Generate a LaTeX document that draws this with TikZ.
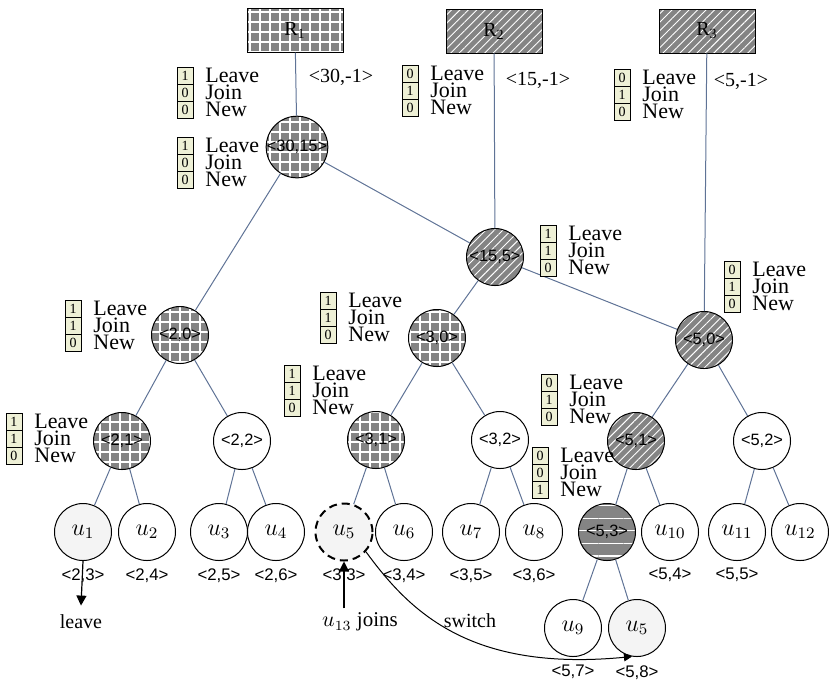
\documentclass[tikz,border=0pt]{standalone}
\usepackage{fontspec}
\setmainfont{Liberation Serif}
\newfontfamily\sansf{Liberation Sans}
\usepackage{tikz}
\usetikzlibrary{arrows.meta,positioning,patterns.meta}

\definecolor{edgeblue}{RGB}{95,115,150}
\definecolor{shade}{RGB}{132,132,132}
\definecolor{flagbg}{RGB}{238,240,214}
\definecolor{leafbg}{RGB}{244,244,244}

% three flag bits with their names: name, top-left corner, leave, join, new
\newcommand{\flagset}[5]{%
  \node[bit, anchor=north west] (#1l) at (#2) {#3};
  \node[bit, below=0pt of #1l] (#1j) {#4};
  \node[bit, below=0pt of #1j] (#1n) {#5};
  \node[ftxt, right=6pt of #1l] (#1lt) {Leave};
  \node[ftxt, right=6pt of #1j] (#1jt) {Join};
  \node[ftxt, right=6pt of #1n] (#1nt) {New};
}

\begin{document}
\begin{tikzpicture}[
  x=0.5pt, y=-0.5pt,
  rbox/.style={draw, minimum width=48pt, minimum height=22pt, inner sep=0pt, font=\rmfamily\fontsize{10}{11}\selectfont},
  tnode/.style={circle, draw, line width=0.5pt, minimum size=28.5pt, inner sep=0pt, font=\sansf\fontsize{8.2}{9}\selectfont},
  leaf/.style={tnode, font=\rmfamily\fontsize{12}{14}\selectfont},
  hatchfill/.style={preaction={fill=shade}, pattern={Hatch[distance=5pt,line width=0.6pt]}, pattern color=white},
  stripefill/.style={preaction={fill=shade}, pattern={Lines[angle=45,distance=3pt,line width=0.45pt]}, pattern color=white},
  barfill/.style={preaction={fill=shade}, pattern={Lines[angle=0,distance=6.3pt,line width=0.6pt]}, pattern color=white},
  bit/.style={draw, fill=flagbg, line width=0.4pt, minimum width=8pt, minimum height=8.5pt, inner sep=0pt, outer sep=0pt, font=\rmfamily\fontsize{7}{7}\selectfont},
  ftxt/.style={inner sep=0pt, text height=7pt, text depth=0pt, font=\rmfamily\fontsize{11}{11}\selectfont},
  lbl/.style={inner sep=0pt, font=\sansf\fontsize{8.4}{9}\selectfont},
  ptxt/.style={inner sep=0pt, font=\rmfamily\fontsize{10}{11}\selectfont},
  edge/.style={draw=edgeblue, line width=0.5pt},
  arr/.style={-{Triangle[length=5pt,width=5pt]}, line width=0.6pt}
]
\useasboundingbox (0,0) rectangle (829,682);

% roots
\node[rbox, hatchfill] (r1) at (295,30) {R\textsubscript{1}};
\node[rbox, stripefill] (r2) at (494,31) {R\textsubscript{2}};
\node[rbox, stripefill] (r3) at (707,31) {R\textsubscript{3}};
\node[ptxt] (w1) at (341,77) {<30,-1>};
\node[ptxt] (w2) at (538,80) {<15,-1>};
\node[ptxt] (w3) at (741,81) {<5,-1>};

% inner nodes
\node[tnode, hatchfill] (n3015) at (297,147) {<30,15>};
\node[tnode, stripefill] (n155) at (495,257) {<15,5>};
\node[tnode, stripefill] (n50) at (704,340) {<5,0>};
\node[tnode, hatchfill] (n20) at (180,335) {<2,0>};
\node[tnode, hatchfill] (n30) at (437,338) {<3,0>};
\node[tnode, hatchfill] (n21) at (122,441) {<2,1>};
\node[tnode] (n22) at (242,441) {<2,2>};
\node[tnode, hatchfill] (n31) at (376,440) {<3,1>};
\node[tnode] (n32) at (500,440) {<3,2>};
\node[tnode, stripefill] (n51) at (636,441) {<5,1>};
\node[tnode] (n52) at (762,441) {<5,2>};
\node[tnode, barfill] (n53) at (607,532) {<5,3>};

% members
\node[leaf, fill=leafbg] (u1) at (83,532) {$u_{1}$};
\node[leaf] (u2) at (147,532) {$u_{2}$};
\node[leaf] (u3) at (219,532) {$u_{3}$};
\node[leaf] (u4) at (276,532) {$u_{4}$};
\node[leaf, fill=leafbg, line width=1pt, dash pattern=on 4pt off 2.5pt] (u5) at (344,532) {$u_{5}$};
\node[leaf] (u6) at (404,532) {$u_{6}$};
\node[leaf] (u7) at (471,532) {$u_{7}$};
\node[leaf] (u8) at (534,532) {$u_{8}$};
\node[leaf] (u10) at (670,532) {$u_{10}$};
\node[leaf] (u11) at (737,532) {$u_{11}$};
\node[leaf] (u12) at (800,532) {$u_{12}$};
\node[leaf] (u9) at (573,628) {$u_{9}$};
\node[leaf, fill=leafbg] (u5b) at (637,628) {$u_{5}$};

\node[lbl, below=3.5pt of u1] (l23) {<2,3>};
\node[lbl, below=3.5pt of u2] (l24) {<2,4>};
\node[lbl, below=3.5pt of u3] (l25) {<2,5>};
\node[lbl, below=3.5pt of u4] (l26) {<2,6>};
\node[lbl, below=3.5pt of u5] (l33) {<3,3>};
\node[lbl, below=3.5pt of u6] (l34) {<3,4>};
\node[lbl, below=3.5pt of u7] (l35) {<3,5>};
\node[lbl, below=3.5pt of u8] (l36) {<3,6>};
\node[lbl, below=3.5pt of u10] (l54) {<5,4>};
\node[lbl, below=3.5pt of u11] (l55) {<5,5>};
\node[lbl, below=4pt of u9] (l57) {<5,7>};
\node[lbl, below=4pt of u5b] (l58) {<5,8>};

% tree edges
\draw[edge] (r1) -- (n3015);
\draw[edge] (r2) -- (n155);
\draw[edge] (r3) -- (n50);
\draw[edge] (n3015) -- (n155);
\draw[edge] (n155) -- (n50);
\draw[edge] (n3015) -- (n20);
\draw[edge] (n155) -- (n30);
\draw[edge] (n20) -- (n21);
\draw[edge] (n20) -- (n22);
\draw[edge] (n30) -- (n31);
\draw[edge] (n30) -- (n32);
\draw[edge] (n50) -- (n51);
\draw[edge] (n50) -- (n52);
\draw[edge] (n21) -- (u1);
\draw[edge] (n21) -- (u2);
\draw[edge] (n22) -- (u3);
\draw[edge] (n22) -- (u4);
\draw[edge] (n31) -- (u5);
\draw[edge] (n31) -- (u6);
\draw[edge] (n32) -- (u7);
\draw[edge] (n32) -- (u8);
\draw[edge] (n51) -- (n53);
\draw[edge] (n51) -- (u10);
\draw[edge] (n52) -- (u11);
\draw[edge] (n52) -- (u12);
\draw[edge] (n53) -- (u9);
\draw[edge] (n53) -- (u5b);

% flags
\flagset{fR1}{177,67}{1}{0}{0}
\flagset{f3015}{177,137}{1}{0}{0}
\flagset{fR2}{402,65}{0}{1}{0}
\flagset{fR3}{614,69}{0}{1}{0}
\flagset{f155}{540,225}{1}{1}{0}
\flagset{f50}{724,261}{0}{1}{0}
\flagset{f20}{65,300}{1}{1}{0}
\flagset{f21}{6,413}{1}{1}{0}
\flagset{f30}{320,292}{1}{1}{0}
\flagset{f31}{284,365}{1}{1}{0}
\flagset{f51}{541,374}{0}{1}{0}
\flagset{f53}{532,447}{0}{0}{1}

% events
\node[font=\rmfamily\fontsize{10}{12}\selectfont, inner sep=4.5pt] (leave) at (81,622) {leave};
\node[font=\rmfamily\fontsize{10.5}{12}\selectfont, inner sep=2pt] (join) at (360,622) {$u_{13}$ joins};
\node[font=\rmfamily\fontsize{10}{12}\selectfont] (sw) at (470,621) {switch};
\draw[arr] (u1.south) -- (leave.north);
\draw[arr] (u5.south |- join.north) -- (u5.south);
\draw[-{Triangle[length=4pt,width=4pt]}, line width=0.5pt] (u5.-42) .. controls (410,612) and (470,672) .. (u5b.-100);
\end{tikzpicture}
\end{document}
